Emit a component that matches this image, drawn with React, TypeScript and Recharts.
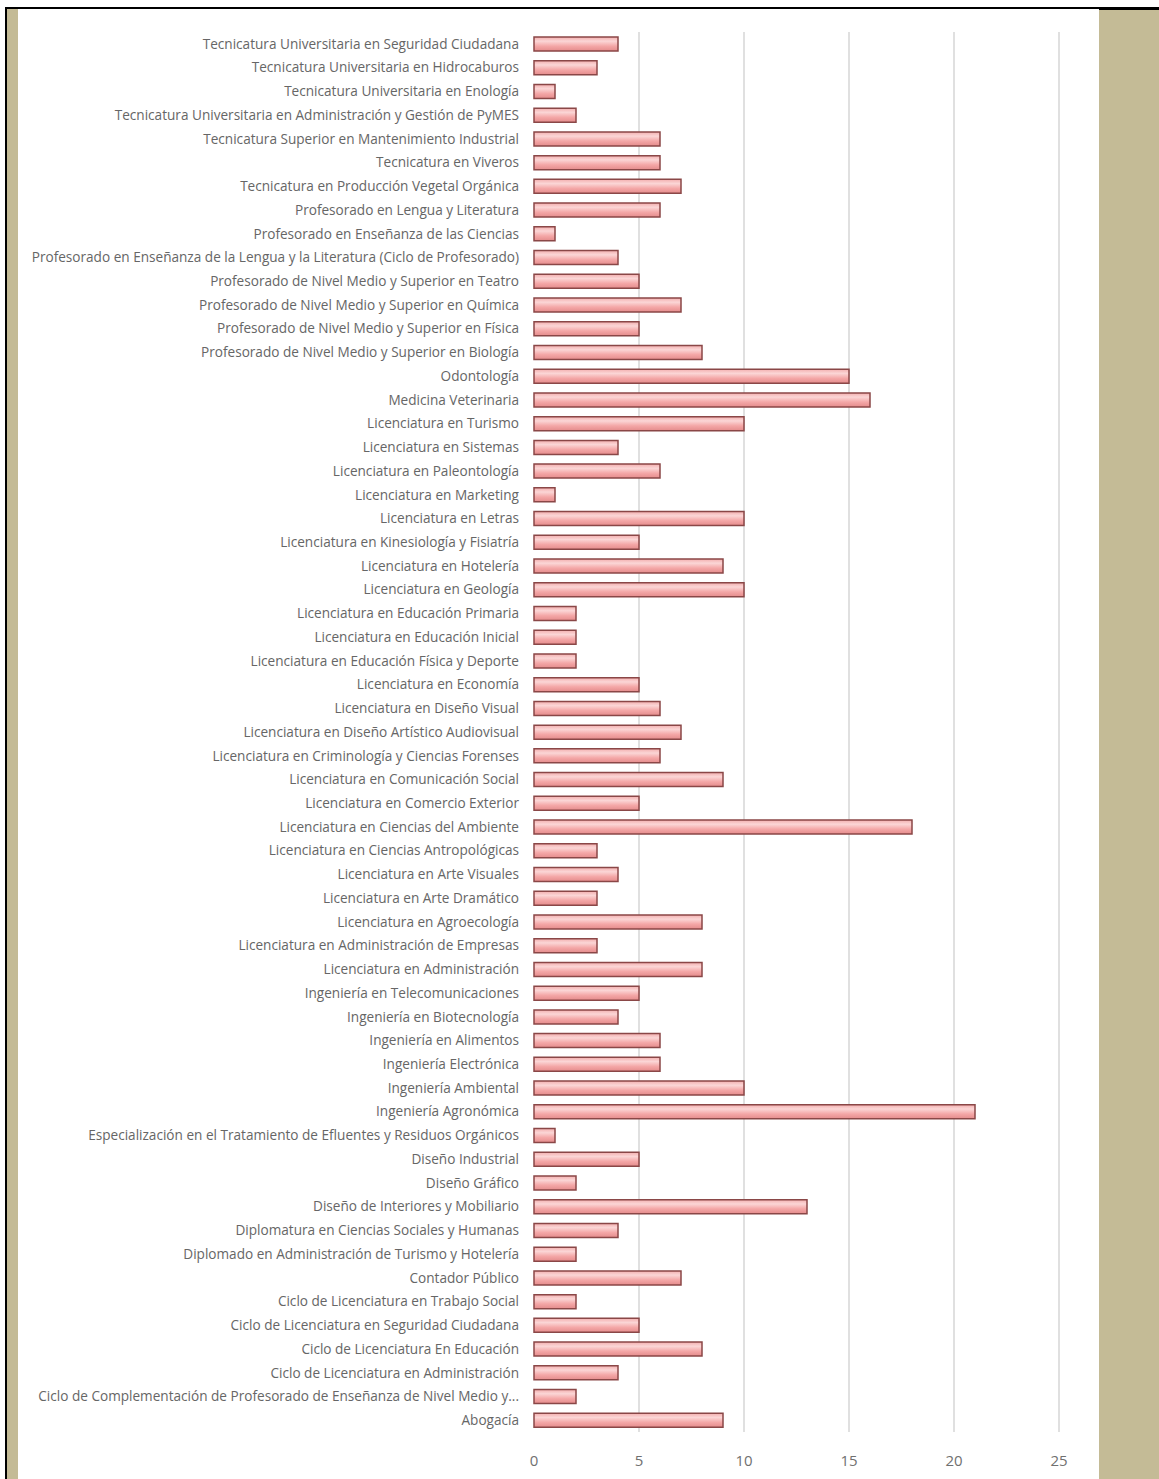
import React from "react";
import { BarChart, Bar, XAxis, YAxis, CartesianGrid } from "recharts";

// Programs offered, top to bottom
const programs: string[] = [
  "Tecnicatura Universitaria en Seguridad Ciudadana",
  "Tecnicatura Universitaria en Hidrocaburos",
  "Tecnicatura Universitaria en Enología",
  "Tecnicatura Universitaria en Administración y Gestión de PyMES",
  "Tecnicatura Superior en Mantenimiento Industrial",
  "Tecnicatura en Viveros",
  "Tecnicatura en Producción Vegetal Orgánica",
  "Profesorado en Lengua y Literatura",
  "Profesorado en Enseñanza de las Ciencias",
  "Profesorado en Enseñanza de la Lengua y la Literatura (Ciclo de Profesorado)",
  "Profesorado de Nivel Medio y Superior en Teatro",
  "Profesorado de Nivel Medio y Superior en Química",
  "Profesorado de Nivel Medio y Superior en Física",
  "Profesorado de Nivel Medio y Superior en Biología",
  "Odontología",
  "Medicina Veterinaria",
  "Licenciatura en Turismo",
  "Licenciatura en Sistemas",
  "Licenciatura en Paleontología",
  "Licenciatura en Marketing",
  "Licenciatura en Letras",
  "Licenciatura en Kinesiología y Fisiatría",
  "Licenciatura en Hotelería",
  "Licenciatura en Geología",
  "Licenciatura en Educación Primaria",
  "Licenciatura en Educación Inicial",
  "Licenciatura en Educación Física y Deporte",
  "Licenciatura en Economía",
  "Licenciatura en Diseño Visual",
  "Licenciatura en Diseño Artístico Audiovisual",
  "Licenciatura en Criminología y Ciencias Forenses",
  "Licenciatura en Comunicación Social",
  "Licenciatura en Comercio Exterior",
  "Licenciatura en Ciencias del Ambiente",
  "Licenciatura en Ciencias Antropológicas",
  "Licenciatura en Arte Visuales",
  "Licenciatura en Arte Dramático",
  "Licenciatura en Agroecología",
  "Licenciatura en Administración de Empresas",
  "Licenciatura en Administración",
  "Ingeniería en Telecomunicaciones",
  "Ingeniería en Biotecnología",
  "Ingeniería en Alimentos",
  "Ingeniería Electrónica",
  "Ingeniería Ambiental",
  "Ingeniería Agronómica",
  "Especialización en el Tratamiento de Efluentes y Residuos Orgánicos",
  "Diseño Industrial",
  "Diseño Gráfico",
  "Diseño de Interiores y Mobiliario",
  "Diplomatura en Ciencias Sociales y Humanas",
  "Diplomado en Administración de Turismo y Hotelería",
  "Contador Público",
  "Ciclo de Licenciatura en Trabajo Social",
  "Ciclo de Licenciatura en Seguridad Ciudadana",
  "Ciclo de Licenciatura En Educación",
  "Ciclo de Licenciatura en Administración",
  "Ciclo de Complementación de Profesorado de Enseñanza de Nivel Medio y...",
  "Abogacía",
];

const counts: number[] = [
  4, 3, 1, 2, 6, 6, 7, 6, 1, 4, 5, 7, 5, 8, 15, 16, 10, 4, 6, 1, 10, 5, 9, 10,
  2, 2, 2, 5, 6, 7, 6, 9, 5, 18, 3, 4, 3, 8, 3, 8, 5, 4, 6, 6, 10, 21, 1, 5, 2,
  13, 4, 2, 7, 2, 5, 8, 4, 2, 9,
];

const xTicks: number[] = [0, 5, 10, 15, 20, 25];
const gridValues: number[] = [5, 10, 15, 20, 25];

const data = programs.map((name, i) => ({ name, value: counts[i] }));

const TAN = "#C4BB96";

export default function App() {
  return (
    <div
      style={{
        position: "absolute",
        left: 0,
        top: 0,
        width: 1159,
        height: 1479,
        background: "#ffffff",
        overflow: "hidden",
      }}
    >
      {/* frame: top rule, left rule, side panels */}
      <div style={{ position: "absolute", left: 5, top: 7, width: 1154, height: 2, background: "#000" }} />
      <div style={{ position: "absolute", left: 1099, top: 8, width: 60, height: 2, background: "#000" }} />
      <div style={{ position: "absolute", left: 5, top: 7, width: 2, height: 1472, background: "#000" }} />
      <div style={{ position: "absolute", left: 7, top: 9, width: 11, height: 1470, background: TAN }} />
      <div style={{ position: "absolute", left: 1099, top: 10, width: 60, height: 1469, background: TAN }} />

      <div style={{ position: "absolute", left: 0, top: 0 }}>
        <BarChart
          width={1159}
          height={1479}
          data={data}
          layout="vertical"
          margin={{ top: 32, right: 100, bottom: 17, left: 20 }}
          barCategoryGap={0}
        >
          <defs>
            <linearGradient id="barFill" x1="0" y1="0" x2="0" y2="1">
              <stop offset="0%" stopColor="#F3AFAF" />
              <stop offset="30%" stopColor="#FBD6D6" />
              <stop offset="65%" stopColor="#F4A7A7" />
              <stop offset="100%" stopColor="#E48C8C" />
            </linearGradient>
          </defs>
          <CartesianGrid
            horizontal={false}
            vertical={true}
            verticalValues={gridValues}
            stroke="#D6D6D6"
            strokeWidth={1.5}
          />
          <XAxis
            type="number"
            domain={[0, 25]}
            ticks={xTicks}
            axisLine={false}
            tickLine={false}
            tickSize={0}
            tickMargin={23}
            height={30}
            tick={{ fill: "#707070", fontSize: 15, fontFamily: "Open Sans" }}
          />
          <YAxis
            type="category"
            dataKey="name"
            width={514}
            axisLine={false}
            tickLine={false}
            tickSize={0}
            tickMargin={15}
            interval={0}
            tick={{ fill: "#666666", fontSize: 13.6, fontFamily: "Open Sans" }}
          />
          <Bar
            dataKey="value"
            barSize={14}
            fill="url(#barFill)"
            stroke="#8A4747"
            strokeWidth={1.5}
            isAnimationActive={false}
          />
        </BarChart>
      </div>
    </div>
  );
}
